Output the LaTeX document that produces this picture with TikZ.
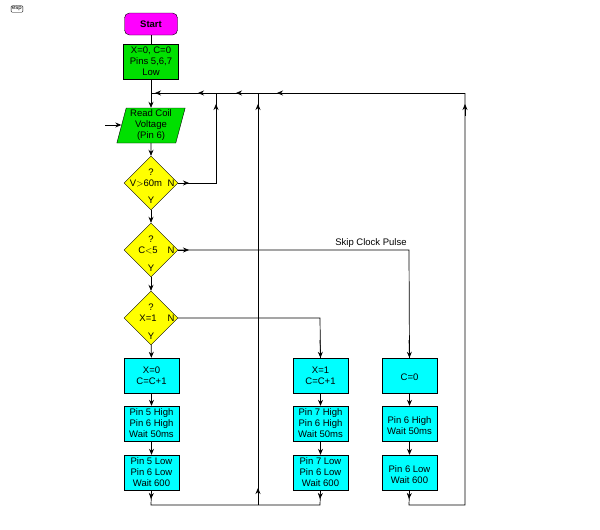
\documentclass[tikz,border=0pt]{standalone}
\usepackage{fontspec}
\setmainfont{Liberation Sans}
\usetikzlibrary{shapes.geometric,arrows.meta}
\definecolor{cy}{RGB}{0,255,255}
\definecolor{mg}{RGB}{255,0,255}
\definecolor{gr}{RGB}{0,224,0}
\definecolor{ye}{RGB}{255,255,0}
\begin{document}
\begin{tikzpicture}[x=1pt,y=-1pt,
  every node/.style={font=\fontsize{9.5}{11}\selectfont,align=center,inner sep=0pt},
  box/.style={draw,fill=cy,minimum width=55pt,minimum height=35pt},
  gbox/.style={draw,fill=gr},
  dia/.style={draw,fill=ye,diamond,minimum width=54pt,minimum height=54pt},
  ar/.style={-{Stealth[length=6pt,width=5pt]}}]
\useasboundingbox (0,0) rectangle (600,530);
\node[font=\fontsize{6}{7}\selectfont,draw,rounded corners=1pt,inner sep=1pt] (esp) at (17,9) {esp};
\node[draw,fill=mg,rounded corners=5pt,minimum width=53pt,minimum height=22pt,font=\fontsize{9.5}{11}\selectfont\bfseries] (start) at (151,24) {Start};
\node[gbox,minimum width=55pt,minimum height=35pt] (init) at (151,61.5) {X=0, C=0\\Pins 5,6,7\\Low};
\node[gbox,trapezium,trapezium left angle=75,trapezium right angle=105,minimum width=52pt,minimum height=35pt,inner xsep=1pt] (read) at (151,125.5) {Read Coil\\Voltage\\(Pin 6)};
\node[dia] (d1) at (151,183) {};
\node at (151,172) {?}; \node at (146,183) {V$>$60m}; \node at (171,183) {N}; \node at (151,200) {Y};
\node[dia] (d2) at (151,250) {};
\node at (151,239) {?}; \node at (148,250) {C$<$5}; \node at (171,250) {N}; \node at (151,268) {Y};
\node[dia] (d3) at (151,318) {};
\node at (151,307) {?}; \node at (148,318) {X=1}; \node at (171,318) {N}; \node at (151,336) {Y};
\node[box] (a1) at (151.5,375.5) {X=0\\C=C+1};
\node[box] (a2) at (151.5,423.5) {Pin 5 High\\Pin 6 High\\Wait 50ms};
\node[box] (a3) at (151.5,472.5) {Pin 5 Low\\Pin 6 Low\\Wait 600};
\node[box] (b1) at (320.5,375.5) {X=1\\C=C+1};
\node[box] (b2) at (320.5,423.5) {Pin 7 High\\Pin 6 High\\Wait 50ms};
\node[box] (b3) at (320.5,472.5) {Pin 7 Low\\Pin 6 Low\\Wait 600};
\node[box] (c1) at (409.5,375.5) {\\C=0};
\node[box] (c2) at (409.5,423.5) {\\Pin 6 High\\Wait 50ms};
\node[box] (c3) at (409.5,472.5) {\\Pin 6 Low\\Wait 600};
\node (skip) at (371,243) {Skip Clock Pulse};
\coordinate (in) at (105,125);
\coordinate (j) at (151,93);
\coordinate (r1) at (216,93); \coordinate (r2) at (258,93); \coordinate (r3) at (465,93);
\coordinate (bL) at (151,505); \coordinate (bM) at (258,505); \coordinate (bR) at (320,505);
\coordinate (cB) at (409,505); \coordinate (cR) at (465,505);
\coordinate (d1r) at (216,183); \coordinate (d2r) at (409,250); \coordinate (d3r) at (320,318);
\begin{scope}[line width=0.7pt]
\draw (start) -- (init);
\draw[ar] (init) -- (read);
\draw[ar] (in) -- (read.west|-in);
\draw[ar] (read) -- (d1);
\draw[ar] (d1) -- (d2);
\draw[ar] (d2) -- (d3);
\draw[ar] (d3) -- (a1);
\draw[ar] (a1) -- (a2); \draw[ar] (a2) -- (a3);
\draw[ar] (b1) -- (b2); \draw[ar] (b2) -- (b3);
\draw[ar] (c1) -- (c2); \draw[ar] (c2) -- (c3);
\draw (r3) -- (j);
\foreach \x in {155,198,236,277} \draw[ar] (\x+8,93) -- (\x,93);
\draw (d1.east) -- (d1r) -- (r1);
\draw[ar] (d1.east) -- (189,183);
\draw[ar] (216,116) -- (216,104);
\draw (d2.east) -- (d2r) -- (c1.north);
\draw[ar] (d2.east) -- (189,250);
\draw[ar] (409,340) -- (c1.north);
\draw (d3.east) -- (d3r) -- (b1.north);
\draw[ar] (320,340) -- (b1.north);
\draw (a3.south) -- (bL) -- (bR) -- (b3.south);
\draw[ar] (a3.south) -- (151,499);
\draw[ar] (b3.south) -- (320,499);
\draw (bM) -- (r2);
\draw[ar] (258,500) -- (258,488);
\draw[ar] (258,116) -- (258,104);
\draw (c3.south) -- (cB) -- (cR) -- (r3);
\draw[ar] (c3.south) -- (409,499);
\draw[ar] (465,116) -- (465,104);
\end{scope}
\end{tikzpicture}
\end{document}
